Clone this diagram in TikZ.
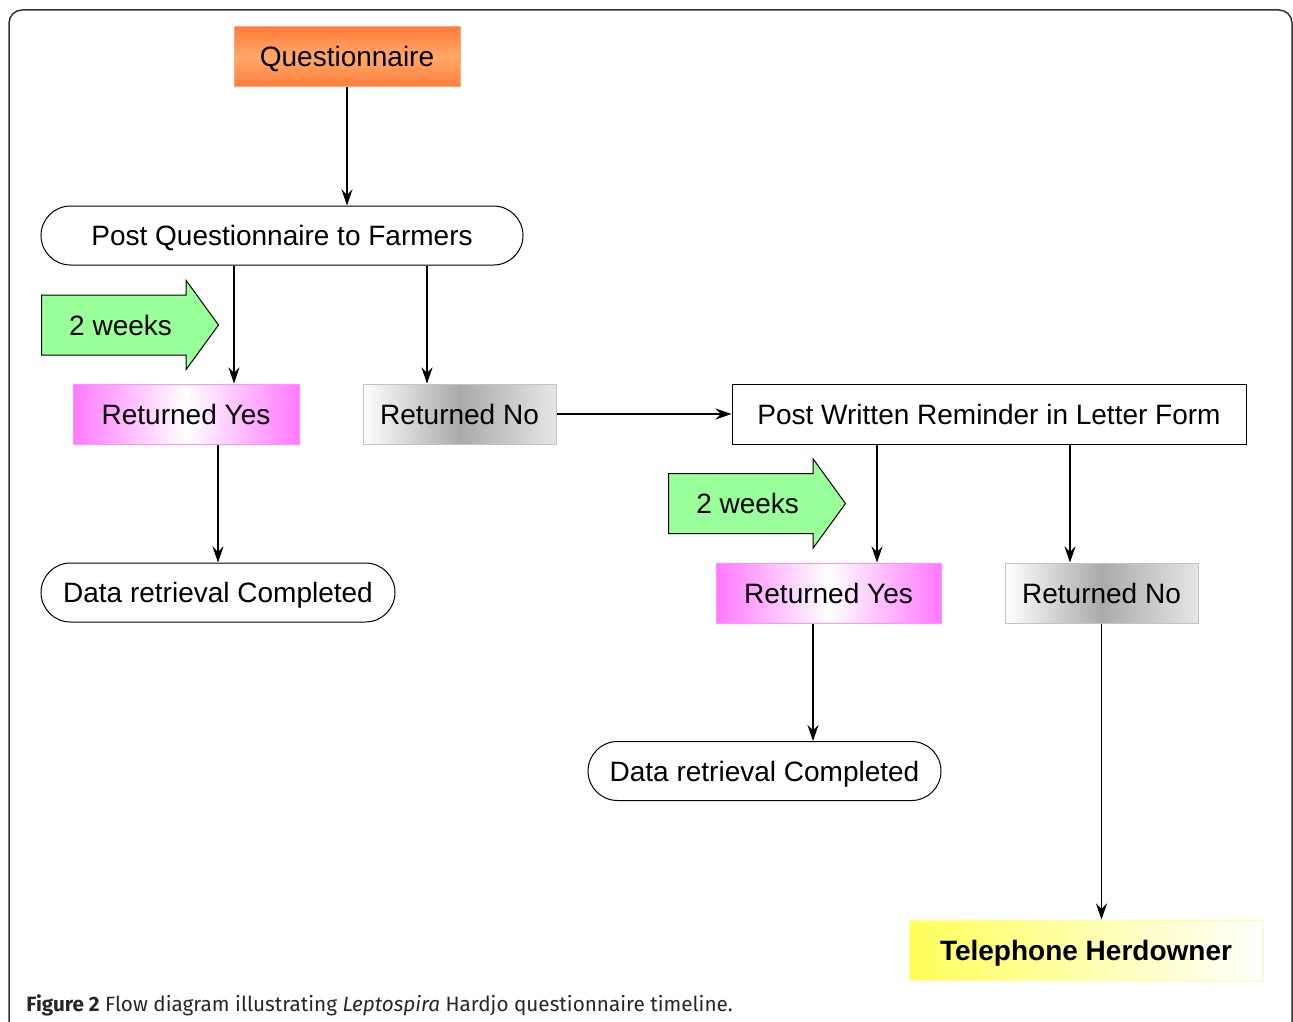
\documentclass[tikz,border=0pt]{standalone}
\usepackage{fontspec}
\setmainfont{Liberation Sans}
\newfontfamily\capfont{Fira Sans}
\usetikzlibrary{shapes.arrows,arrows.meta}
\definecolor{qorange}{RGB}{255,125,60}
\definecolor{qorangelight}{RGB}{255,168,105}
\definecolor{qorangeline}{RGB}{255,165,120}
\definecolor{yesmagenta}{RGB}{255,120,255}
\definecolor{nogray}{RGB}{170,170,170}
\definecolor{weeksgreen}{RGB}{153,255,153}
\definecolor{telyellow}{RGB}{255,255,90}
\definecolor{framegray}{RGB}{50,50,50}

\begin{document}
\begin{tikzpicture}[x=1pt,y=-1pt,
	every node/.style={font=\fontsize{28}{33}\selectfont,inner sep=0pt,line width=1pt},
	box/.style={draw,minimum height=60pt,text height=20pt,text depth=0pt},
	pill/.style={draw,rounded corners=29.5pt,minimum height=59pt,text height=20pt,text depth=0pt},
	yesbox/.style={box,draw=yesmagenta!80,left color=yesmagenta,right color=yesmagenta,middle color=white},
	nobox/.style={box,draw=nogray!70,left color=white,right color=nogray!30,middle color=nogray},
	weeks/.style={single arrow,draw,fill=weeksgreen,text height=39.5pt,text depth=19.5pt,
		single arrow head extend=14.5pt,single arrow tip angle=108,minimum height=177pt},
	>={Stealth[length=16pt,width=11pt]}]
	\useasboundingbox (0,0) rectangle (1293,1022);
	\draw[line width=1.5pt,rounded corners=13pt,framegray] (9,1060) -- (9,10) -- (1292,10) -- (1292,1060);

	\node[box,draw=qorangeline,top color=qorange,bottom color=qorange,middle color=qorangelight,minimum width=226pt] (Questionnaire) at (347,57) {Questionnaire};
	\node[pill,minimum width=482pt] (PostFarmers) at (282,235.5) {Post Questionnaire to Farmers};

	\node[weeks,anchor=tail] (WeeksA) at (41,325) {\hspace*{3pt}2 weeks};
	\node[yesbox,minimum width=226pt] (ReturnedYesA) at (186,414) {Returned Yes};
	\node[nobox,minimum width=193pt] (ReturnedNoA) at (459.5,414) {Returned No};
	\node[box,minimum width=514pt] (Reminder) at (989,414) {Post Written Reminder in Letter Form};
	\node[pill,minimum width=354pt] (DataA) at (218,592.5) {Data retrieval Completed};

	\node[weeks,anchor=tail] (WeeksB) at (668,503.5) {\hspace*{3pt}2 weeks};
	\node[yesbox,minimum width=225pt] (ReturnedYesB) at (828.5,593) {Returned Yes};
	\node[nobox,minimum width=193pt] (ReturnedNoB) at (1101.5,593) {Returned No};
	\node[pill,minimum width=353pt] (DataB) at (764.5,771) {Data retrieval Completed};
	\node[box,draw=telyellow!60,left color=telyellow,right color=white,minimum width=354pt,font=\fontsize{28}{33}\selectfont\bfseries] (Telephone) at (1086,950) {Telephone Herdowner};

	\node[anchor=base west,text=black!85,font=\capfont\fontsize{20.7}{24}\selectfont] (Caption) at (26,1011) {\textbf{Figure 2} Flow diagram illustrating \textit{Leptospira} Hardjo questionnaire timeline.};

	\coordinate (DropYesA) at (234,300);
	\coordinate (DropNoA) at (427,300);
	\coordinate (DropYesB) at (877,500);
	\coordinate (DropNoB) at (1070,500);
	\coordinate (DropDataB) at (813,700);

	\draw[->,line width=1.2pt] (Questionnaire.south) to (Questionnaire.south |- PostFarmers.north);
	\draw[->,line width=1.2pt] (PostFarmers.south -| DropYesA) to (ReturnedYesA.north -| DropYesA);
	\draw[->,line width=1.2pt] (PostFarmers.south -| DropNoA) to (ReturnedNoA.north -| DropNoA);
	\draw[->,line width=1.2pt] (DataA.north |- ReturnedYesA.south) to (DataA.north);
	\draw[->,line width=1.2pt] (ReturnedNoA.east) to (Reminder.west);
	\draw[->,line width=1.2pt] (Reminder.south -| DropYesB) to (ReturnedYesB.north -| DropYesB);
	\draw[->,line width=1.2pt] (Reminder.south -| DropNoB) to (ReturnedNoB.north -| DropNoB);
	\draw[->,line width=1.2pt] (ReturnedYesB.south -| DropDataB) to (DataB.north -| DropDataB);
	\draw[->,line width=1.2pt] (ReturnedNoB.south) to (ReturnedNoB.south |- Telephone.north);
\end{tikzpicture}
\end{document}
